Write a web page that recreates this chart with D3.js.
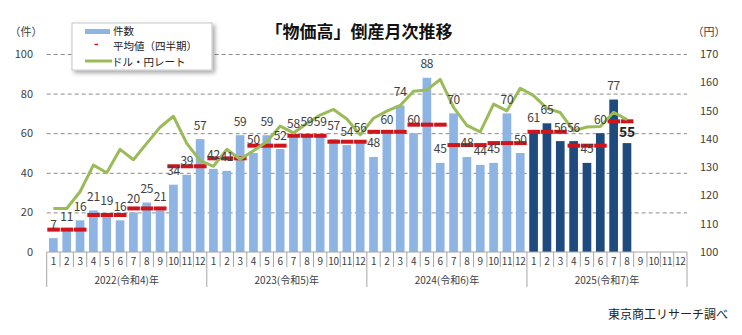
<!DOCTYPE html>
<html><head><meta charset="utf-8">
<script src="https://cdn.jsdelivr.net/npm/d3@7"></script>
<style>
html,body{margin:0;padding:0;background:#fff;}
svg{display:block;font-family:"Noto Sans CJK JP","Noto Sans",sans-serif;}
</style></head>
<body><svg id="c" width="742" height="335"></svg>
<script>
// ---- data ----
const years = ["2022(令和4)年", "2023(令和5)年", "2024(令和6)年", "2025(令和7)年"];
const monthLabels = ["1","2","3","4","5","6","7","8","9","10","11","12"];
const counts = [7,11,16,21,19,16,20,25,21,34,39,57,
                42,41,59,50,59,52,58,59,59,57,54,56,
                48,60,74,60,88,45,70,48,44,45,70,50,
                61,65,56,56,45,60,77,55];
const quarterAvg = [11.3,18.7,22.0,43.3, 47.3,53.7,58.7,55.7, 60.7,64.3,54.0,55.0, 60.7,53.7,66.0];
const usdJpy = [115.4,115.4,121.3,130.7,128.0,136.3,132.6,138.4,144.1,148.0,138.4,132.3,
                130.3,136.3,132.8,135.8,139.0,144.5,142.1,145.4,148.4,150.4,147.0,141.4,
                147.3,149.8,151.8,156.8,157.3,161.0,151.1,144.8,142.5,152.3,149.9,157.9,
                155.3,150.8,149.3,142.8,144.2,144.4,149.4,146.8];
const leftTicks = [0,20,40,60,80,100];
const rightTicks = [100,110,120,130,140,150,160,170];
const legendLabels = ["件数","平均値（四半期）","ドル・円レート"];
const title = "「物価高」倒産月次推移";
const source = "東京商工リサーチ調べ";

// ---- layout ----
const svg = d3.select("#c");
const X0 = 46.7, X1 = 687, YB = 252, YT = 54;
const nMonths = years.length * 12;
const x = d3.scaleBand().domain(d3.range(nMonths)).range([X0, X1]).paddingInner(0.35).paddingOuter(0.175);
const step = x.step();
const cx = i => x(i) + x.bandwidth()/2;
const yL = d3.scaleLinear().domain([0,100]).range([YB, YT]);
const yR = d3.scaleLinear().domain([100,170]).range([YB, YT]);
const txt = "#404040";

const defs = svg.append("defs");
const f = defs.append("filter").attr("id","sh").attr("x","-20%").attr("y","-20%").attr("width","150%").attr("height","160%");
f.append("feDropShadow").attr("dx",2.5).attr("dy",2.5).attr("stdDeviation",2).attr("flood-color","#000").attr("flood-opacity",0.35);

// title
svg.append("text").attr("x",359).attr("y",37.5).attr("text-anchor","middle")
  .attr("font-size",17).attr("font-weight","bold").attr("fill","#111").text(title);

// gridlines (left axis)
svg.append("g").attr("transform",`translate(${X0},0)`)
  .call(d3.axisLeft(yL).tickValues(leftTicks.filter(d=>d>0)).tickSize(-(X1-X0)).tickFormat(""))
  .call(g=>g.select(".domain").remove())
  .call(g=>g.selectAll("line").attr("stroke","#8a8a8a").attr("stroke-dasharray","4,3").attr("stroke-width",1));

// left axis labels
svg.append("g").attr("transform",`translate(36,0)`)
  .call(d3.axisLeft(yL).tickValues(leftTicks).tickSize(0).tickPadding(3))
  .call(g=>g.select(".domain").remove())
  .call(g=>g.selectAll("text").attr("font-size",11).attr("fill",txt).attr("font-family","Noto Sans CJK JP, Noto Sans, sans-serif"));
// right axis labels
svg.append("g").attr("transform",`translate(697,0)`)
  .call(d3.axisRight(yR).tickValues(rightTicks).tickSize(0).tickPadding(3))
  .call(g=>g.select(".domain").remove())
  .call(g=>g.selectAll("text").attr("font-size",11).attr("fill",txt).attr("font-family","Noto Sans CJK JP, Noto Sans, sans-serif"));

svg.append("text").attr("x",26).attr("y",36).attr("text-anchor","middle").attr("font-size",11).attr("fill",txt).text("（件）");
svg.append("text").attr("x",709).attr("y",36).attr("text-anchor","middle").attr("font-size",11).attr("fill",txt).text("（円）");

// bars
svg.append("g").selectAll("rect").data(counts).join("rect")
  .attr("x",(d,i)=>x(i)).attr("width",x.bandwidth())
  .attr("y",d=>yL(d)).attr("height",d=>YB-yL(d))
  .attr("fill",(d,i)=> i>=36 ? "#1f4a7e" : "#8db4e2");

// base line
svg.append("line").attr("x1",X0).attr("x2",X1).attr("y1",YB).attr("y2",YB).attr("stroke","#a6a6a6");

// category axis
const cat = svg.append("g");
d3.range(nMonths+1).forEach(i=>{
  const xx = X0 + i*step;
  const yearEdge = i%12===0;
  cat.append("line").attr("x1",xx).attr("x2",xx).attr("y1",YB).attr("y2",yearEdge?287:267)
    .attr("stroke","#a6a6a6");
});
cat.selectAll("text.m").data(d3.range(nMonths)).join("text").attr("class","m")
  .attr("x",i=>cx(i)).attr("y",265).attr("text-anchor","middle").attr("font-size",10).attr("fill",txt)
  .attr("letter-spacing",-0.3).text(i=>monthLabels[i%12]);
cat.selectAll("text.yr").data(years).join("text").attr("class","yr")
  .attr("x",(d,k)=>X0 + (k*12+6)*step).attr("y",284).attr("text-anchor","middle").attr("font-size",10).attr("fill",txt)
  .text(d=>d);

// quarterly average dashes (one dash per month of each quarter)
const avgMonthly = counts.map((d,i)=>({i, v: quarterAvg[Math.floor(i/3)]}));
svg.append("g").selectAll("line").data(avgMonthly).join("line")
  .attr("x1",d=>X0 + d.i*step + 0.6).attr("x2",d=>X0 + (d.i+1)*step - 0.2)
  .attr("y1",d=>yL(d.v)).attr("y2",d=>yL(d.v))
  .attr("stroke","#d0141c").attr("stroke-width",4);

// exchange-rate line
const line = d3.line().x((d,i)=>cx(i)).y(d=>yR(d));
svg.append("path").datum(usdJpy).attr("d",line).attr("fill","none")
  .attr("stroke","#9bbb59").attr("stroke-width",3).attr("stroke-linejoin","round");

// value labels
const last = counts.length-1;
svg.append("g").selectAll("text").data(counts).join("text")
  .attr("x",(d,i)=>cx(i)).attr("y",(d,i)=> i===last ? yL(d)-6 : yL(d)-9.5)
  .attr("text-anchor","middle").attr("font-size",(d,i)=> i===last?14:12)
  .attr("fill",(d,i)=> i===last ? "#222" : txt).attr("font-weight",(d,i)=> i===last?"bold":"normal")
  .attr("letter-spacing",-0.3).text(d=>d);

// legend
const lg = svg.append("g");
lg.append("rect").attr("x",72).attr("y",23).attr("width",140).attr("height",47)
  .attr("fill","#fff").attr("stroke","#c8c8c8").attr("filter","url(#sh)");
lg.append("rect").attr("x",85).attr("y",29).attr("width",25).attr("height",5).attr("fill","#8db4e2");
lg.append("line").attr("x1",94.5).attr("x2",98).attr("y1",44.5).attr("y2",44.5).attr("stroke","#d0141c").attr("stroke-width",1.5);
lg.append("line").attr("x1",85).attr("x2",112).attr("y1",61).attr("y2",61).attr("stroke","#9bbb59").attr("stroke-width",3);
lg.selectAll("text").data(legendLabels).join("text")
  .attr("x",(d,i)=> i===2?112:113).attr("y",(d,i)=>[35,50,65.5][i]).attr("font-size",10.5).attr("fill","#222").text(d=>d);

// source
svg.append("text").attr("x",728).attr("y",319).attr("text-anchor","end").attr("font-size",12).attr("fill","#222").text(source);
</script></body></html>
